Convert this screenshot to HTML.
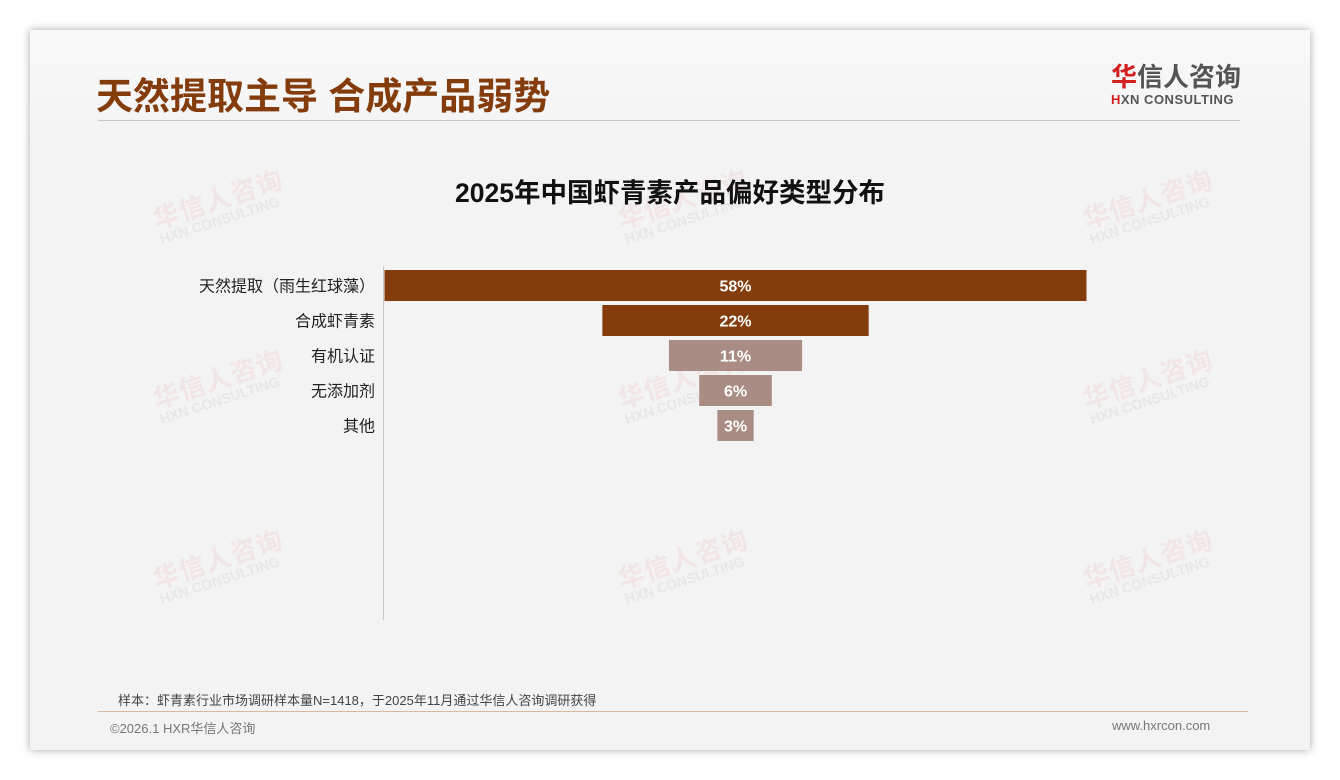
<!DOCTYPE html>
<html><head><meta charset="utf-8">
<style>
body{margin:0;width:1340px;height:780px;background:#fff;font-family:"Liberation Sans","Noto Sans CJK SC",sans-serif;position:relative;overflow:hidden}
#card{position:absolute;left:30px;top:30px;width:1280px;height:720px;background:linear-gradient(#f9f9f9,#f3f3f3 120px,#f3f3f3);box-shadow:0 0 8px rgba(0,0,0,0.35)}
.abs{position:absolute}
.wm{position:absolute;color:rgba(220,60,60,0.08);font-weight:bold;transform:rotate(-18deg);transform-origin:left top;line-height:1}
.wm .a{font-size:26px;letter-spacing:1px}
.wm .b{font-size:14px;color:rgba(150,150,150,0.12)}
</style></head><body>
<div id="card"></div>
<div id="wms"></div>
<div class="abs" style="left:96px;top:66px;font-size:37px;font-weight:bold;color:#843c0c;white-space:nowrap">天然提取主导 合成产品弱势</div>
<div class="abs" style="left:1111px;top:63px;width:135px">
 <div style="font-size:26px;font-weight:bold;color:#555;line-height:29px;white-space:nowrap"><span style="color:#d21f1f">华</span>信人咨询</div>
 <div style="font-size:13px;font-weight:bold;color:#555;letter-spacing:0.5px;white-space:nowrap"><span style="color:#d21f1f">H</span>XN CONSULTING</div>
</div>
<div class="abs" style="left:98px;top:120px;width:1142px;height:1px;background:#c8c8c8"></div>
<div class="abs" style="left:0;width:1340px;top:171px;text-align:center;font-size:26.5px;font-weight:bold;color:#111">2025年中国虾青素产品偏好类型分布</div>
<svg class="abs" style="left:0;top:0" width="1340" height="780" id="chart"></svg>
<div class="abs" style="left:118px;top:690px;font-size:13px;color:#444;white-space:nowrap">样本：虾青素行业市场调研样本量N=1418，于2025年11月通过华信人咨询调研获得</div>
<div class="abs" style="left:98px;top:711px;width:1150px;height:1px;background:#d9b8a0"></div>
<div class="abs" style="left:110px;top:718px;font-size:13px;color:#777">©2026.1 HXR华信人咨询</div>
<div class="abs" style="left:1112px;top:718px;font-size:13px;color:#777">www.hxrcon.com</div>
<script>
const categories=["天然提取（雨生红球藻）","合成虾青素","有机认证","无添加剂","其他"];
const values=[58,22,11,6,3];
const labels=["58%","22%","11%","6%","3%"];
const ns="http://www.w3.org/2000/svg";
const svg=document.getElementById('chart');
const cx=735.5, pxPer=702/58, top0=270, step=35, bh=31;
const x=v=>v*pxPer;
const wmPos=[[150,208],[615,208],[1080,208],[150,388],[615,388],[1080,388],[150,568],[615,568],[1080,568]];
const wms=document.getElementById('wms');
wmPos.forEach(p=>{const d=document.createElement('div');d.className='wm';d.style.left=p[0]+'px';d.style.top=p[1]+'px';


d.innerHTML='<div class="a">华信人咨询</div><div class="b">HXN CONSULTING</div>';wms.appendChild(d);});
const ax=document.createElementNS(ns,'line');
ax.setAttribute('x1',383.5);ax.setAttribute('x2',383.5);ax.setAttribute('y1',266);ax.setAttribute('y2',620);ax.setAttribute('stroke','#c8c8c8');


svg.appendChild(ax);
values.forEach((v,i)=>{
 const w=x(v),y=top0+i*step;
 const r=document.createElementNS(ns,'rect');
 r.setAttribute('x',cx-w/2);r.setAttribute('y',y);r.setAttribute('width',w);r.setAttribute('height',bh);
 r.setAttribute('fill',i<2?'#843c0c':'#a98d85');
 
 
 svg.appendChild(r);
 const t=document.createElementNS(ns,'text');
 t.setAttribute('x',cx);t.setAttribute('y',y+bh/2+6);t.setAttribute('text-anchor','middle');
 t.setAttribute('fill','#fff');t.setAttribute('font-size','16');t.setAttribute('font-weight','bold');
 t.setAttribute('font-family','Liberation Sans, sans-serif');t.textContent=labels[i];
 
 
 svg.appendChild(t);
 const c=document.createElementNS(ns,'text');
 c.setAttribute('x',375);c.setAttribute('y',y+bh/2+6);c.setAttribute('text-anchor','end');
 c.setAttribute('fill','#222');c.setAttribute('font-size','16');
 c.setAttribute('font-family','Liberation Sans, Noto Sans CJK SC, sans-serif');c.textContent=categories[i];
 
 
 svg.appendChild(c);
});
</script>
</body></html>
